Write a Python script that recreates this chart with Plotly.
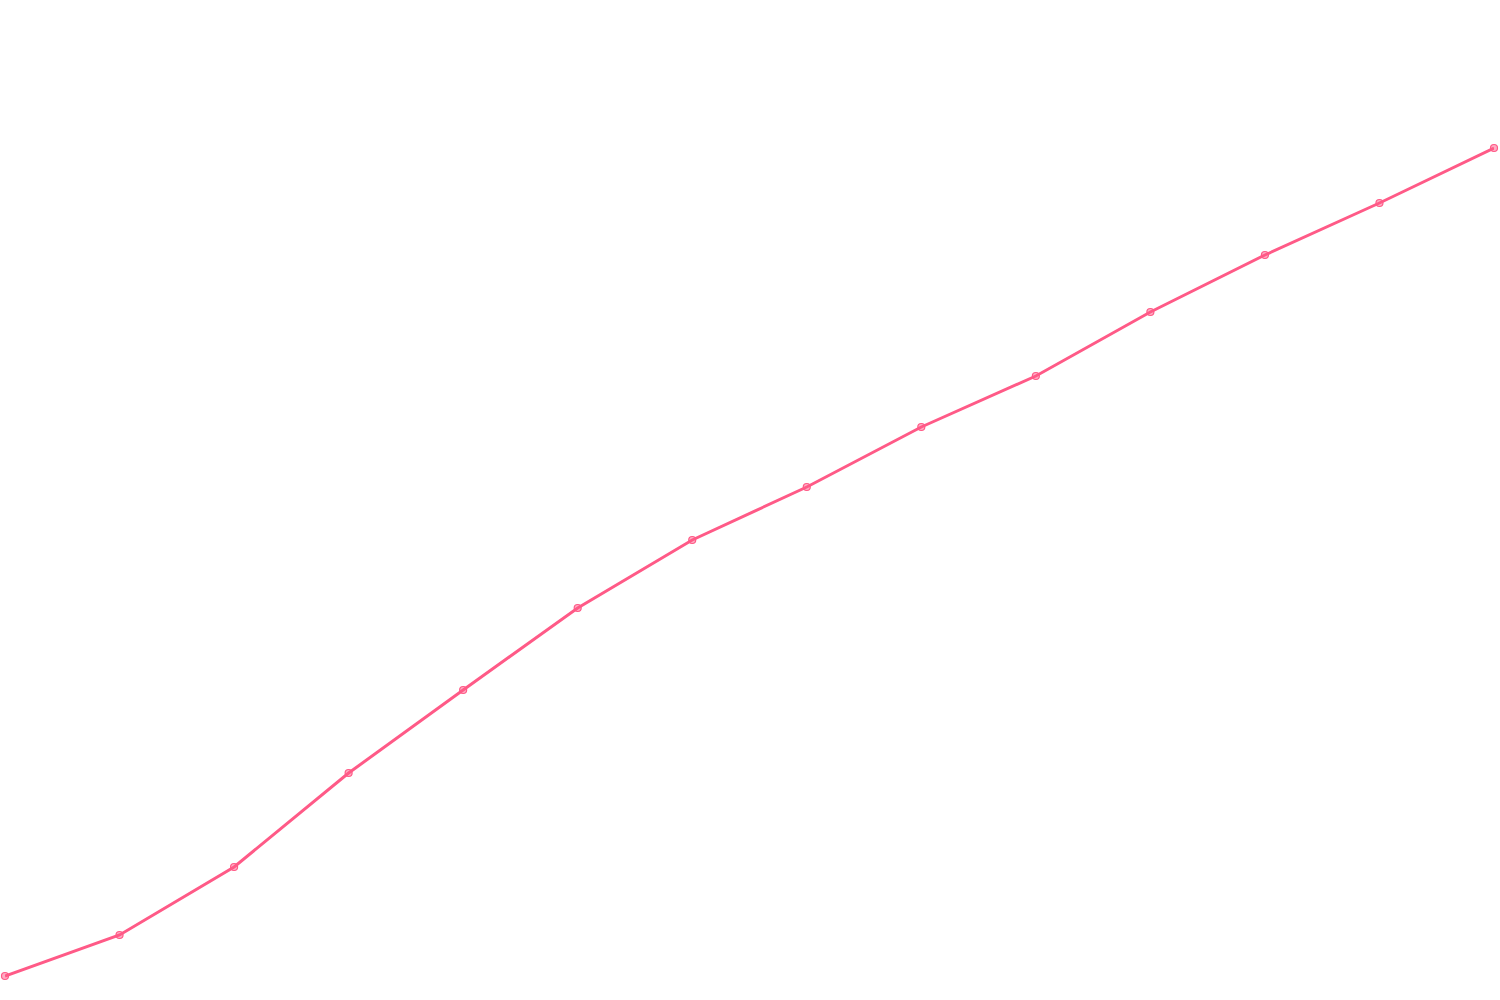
import plotly.graph_objects as go

# data (14 evenly spaced points)
steps = list(range(14))
values = [24, 65, 133, 227, 310, 392, 460, 513, 573, 624, 688, 745, 797, 852]

line_color = '#ff5a87'

fig = go.Figure()
fig.add_trace(
    go.Scatter(
        x=steps,
        y=values,
        mode='lines+markers',
        line=dict(color=line_color, width=3),
        marker=dict(size=7, color='rgba(255, 90, 135, 0.5)',
                    line=dict(color=line_color, width=1.2)),
        cliponaxis=False,
        showlegend=False,
    )
)

fig.update_layout(
    width=1500,
    height=1000,
    margin=dict(l=5, r=6, t=0, b=0),
    paper_bgcolor='white',
    plot_bgcolor='white',
    xaxis=dict(range=[0, 13], visible=False),
    yaxis=dict(range=[0, 1000], visible=False),
)

# drop the default page margin so the figure sits flush with the window
fig.write_html(
    "out.html",
    config={'displayModeBar': False},
    post_script="document.body.style.margin='0';",
)
